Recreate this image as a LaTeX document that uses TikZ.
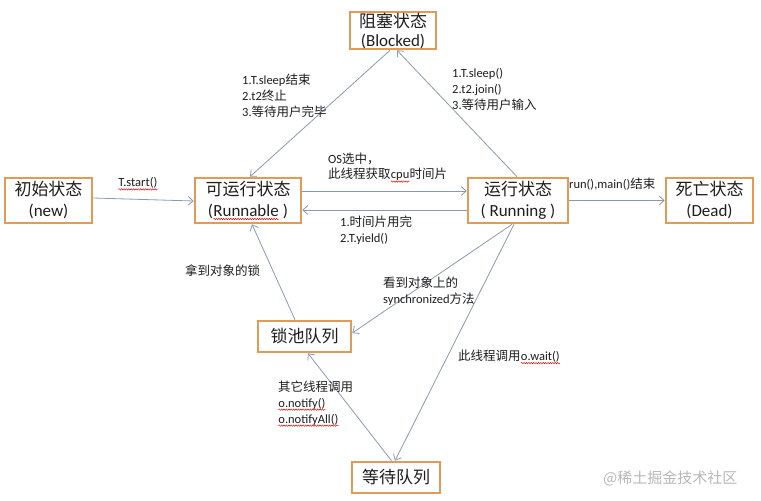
\documentclass[tikz,border=0pt]{standalone}
\usepackage{fontspec}
\setmainfont{Carlito}
\newfontfamily\cjk{Noto Sans CJK SC}
\usetikzlibrary{arrows.meta,decorations.pathmorphing}
\newcommand\redwave[1]{\tikz[baseline=0pt]{\node[inner sep=0pt,outer sep=0pt,anchor=base,draw=none,fill=none,align=left,minimum width=0pt,minimum height=0pt] (w) at (0,0) {#1};\draw[red!85!black, line width=0.45pt, decorate, decoration={snake, amplitude=0.7pt, segment length=2.4pt}] ([yshift=-2.6pt]w.base west) -- ([yshift=-2.6pt]w.base east);}}
\definecolor{boxc}{HTML}{E29B57}
\definecolor{arrc}{HTML}{8A9AB2}
\definecolor{txtc}{HTML}{1E1E1E}
\begin{document}
\begin{tikzpicture}[x=1pt,y=-1pt,
  state/.style={draw=boxc, line width=2.6pt, fill=white, text=txtc, align=center, inner sep=0pt, font=\fontsize{17}{21}\selectfont},
  conn/.style={draw=arrc, line width=0.8pt, -{Straight Barb[length=5pt,width=9pt]}},
  lbl/.style={anchor=west, align=left, inner sep=0pt, text=txtc, font=\fontsize{12.5}{16}\selectfont}]
\fill[white] (0,0) rectangle (761,501);
\useasboundingbox (0,0) rectangle (761,501);
% states
\node[state, minimum width=86pt, minimum height=37pt, font=\fontsize{17}{19}\selectfont] (blocked) at (393,30.5) {{\cjk 阻塞状态}\\(Blocked)};
\node[state, minimum width=87pt, minimum height=45pt] (new) at (48.5,200.5) {{\cjk 初始状态}\\(new)};
\node[state, minimum width=106pt, minimum height=45pt] (runnable) at (248,200.5) {{\cjk 可运行状态}\\(\redwave{Runnable} )};
\node[state, minimum width=100pt, minimum height=45pt] (running) at (518,200.5) {{\cjk 运行状态}\\( Running )};
\node[state, minimum width=87pt, minimum height=45pt] (dead) at (709.5,200.5) {{\cjk 死亡状态}\\(Dead)};
\node[state, minimum width=93pt, minimum height=31pt] (lock) at (304.5,336.5) {{\cjk 锁池队列}};
\node[state, minimum width=88pt, minimum height=31pt] (wait) at (396,477.5) {{\cjk 等待队列}};
% connectors
\draw[conn] ([yshift=2.5pt]new.east) -- ([yshift=-0.5pt]runnable.west);
\draw[conn] ([xshift=-3pt]blocked.south) -- ([xshift=2pt]runnable.north);
\draw[conn] ([xshift=-1pt]running.north) -- ([xshift=4pt]blocked.south);
\draw[conn] ([yshift=9.5pt]runnable.east) -- ([yshift=9.5pt]running.west);
\draw[conn] ([yshift=-9.5pt]running.west) -- ([yshift=-9.5pt]runnable.east);
\draw[conn] (running.east) -- (dead.west);
\draw[conn] ([xshift=-9.5pt]lock.north) -- ([xshift=4pt]runnable.south);
\draw[conn] ([xshift=-6pt]running.south) -- ([yshift=3.5pt]lock.east);
\draw[conn] ([xshift=-4pt]running.south) -- ([xshift=-1pt]wait.north);
\draw[conn] ([xshift=-4.5pt]wait.north) -- ([xshift=3.5pt]lock.south);
% labels
\node[lbl] (l1) at (118,184) {\redwave{T.start()}};
\node[lbl] (l2) at (242,96) {1.T.sleep{\cjk 结束}\\2.t2{\cjk 终止}\\3.{\cjk 等待用户完毕}};
\node[lbl] (l3) at (452,89.5) {1.T.sleep()\\2.t2.join()\\3.{\cjk 等待用户输入}};
\node[lbl, font=\fontsize{12.5}{15}\selectfont] (l4) at (328,168) {OS{\cjk 选中，}\\{\cjk 此线程获取}\redwave{cpu}{\cjk 时间片}};
\node[lbl] (l5) at (340,230) {1.{\cjk 时间片用完}\\2.T.yield()};
\node[lbl] (l6) at (569,184) {run(),main(){\cjk 结束}};
\node[lbl] (l7) at (185,271) {{\cjk 拿到对象的锁}};
\node[lbl] (l8) at (383,291) {{\cjk 看到对象上的}\\synchronized{\cjk 方法}};
\node[lbl] (l9) at (458,357) {{\cjk 此线程调用}\redwave{o.wait()}};
\node[lbl] (l10) at (278,403.5) {{\cjk 其它线程调用}\\\redwave{o.notify()}\\\redwave{o.notifyAll()}};
\node[anchor=west, inner sep=0pt, text=black!28, font=\cjk\fontsize{15}{15}\selectfont] (wm) at (603,478) {@稀土掘金技术社区};
\end{tikzpicture}
\end{document}
